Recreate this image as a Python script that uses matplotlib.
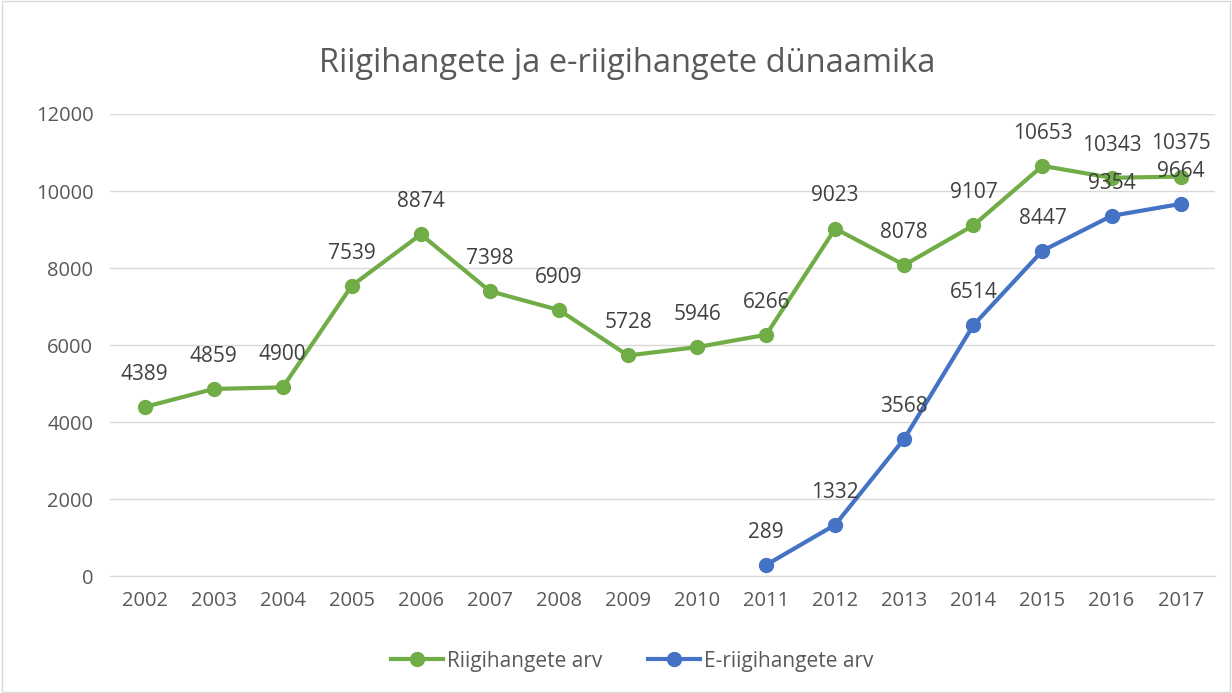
import matplotlib
matplotlib.use("Agg")
import matplotlib.pyplot as plt
from matplotlib.patches import Rectangle

years = [str(y) for y in range(2002, 2018)]
riigihanked = [4389, 4859, 4900, 7539, 8874, 7398, 6909, 5728, 5946, 6266, 9023, 8078, 9107, 10653, 10343, 10375]
e_years = [str(y) for y in range(2011, 2018)]
e_riigihanked = [289, 1332, 3568, 6514, 8447, 9354, 9664]
yticks = [0, 2000, 4000, 6000, 8000, 10000, 12000]

title = "Riigihangete ja e-riigihangete dünaamika"
labels = ["Riigihangete arv", "E-riigihangete arv"]
green = "#70AD47"
blue = "#4472C4"
txt = "#404040"
tick_col = "#595959"

plt.rcParams['font.family'] = ['Open Sans', 'DejaVu Sans']

fig = plt.figure(figsize=(12.32, 6.93), dpi=100)
ax = fig.add_axes([0.0893, 0.1688, 0.897, 0.6667])

x_all = list(range(len(years)))
x_e = [years.index(y) for y in e_years]

l1, = ax.plot(x_all, riigihanked, color=green, lw=3, marker='o', ms=10, label=labels[0], zorder=3)
l2, = ax.plot(x_e, e_riigihanked, color=blue, lw=3, marker='o', ms=10, label=labels[1], zorder=3)

for xi, v in zip(x_all, riigihanked):
    ax.annotate(str(v), (xi, v), xytext=(0, 23.5), textcoords='offset points', ha='center', va='center', fontsize=15, color=txt)
for xi, v in zip(x_e, e_riigihanked):
    ax.annotate(str(v), (xi, v), xytext=(0, 23.5), textcoords='offset points', ha='center', va='center', fontsize=15, color=txt)

ax.set_xlim(-0.5, len(years) - 0.5)
ax.set_ylim(0, 12000)
ax.set_yticks(yticks)
ax.set_yticklabels([str(t) for t in yticks])
ax.set_xticks(x_all)
ax.set_xticklabels(years)
ax.tick_params(axis='both', length=0, labelsize=14.5, labelcolor=tick_col)
ax.tick_params(axis='x', pad=11)
ax.tick_params(axis='y', pad=12)
ax.grid(axis='y', color='#D9D9D9', lw=1)
ax.set_axisbelow(True)
for s in ['top', 'right', 'left']:
    ax.spines[s].set_visible(False)
ax.spines['bottom'].set_color('#D9D9D9')

fig.text(0.509, 0.908, title, ha='center', va='center', fontsize=23.5, color=tick_col)

fig.legend(handles=[l1, l2], loc='center', bbox_to_anchor=(0.513, 0.046), ncol=2, frameon=False,
           fontsize=15, labelcolor=tick_col, handlelength=2.5, handletextpad=0.2, columnspacing=2.2)

fig.add_artist(Rectangle((0.002, 0.002), 0.996, 0.996, transform=fig.transFigure, fill=False, edgecolor='#D9D9D9', lw=1))

fig.savefig("out.png", dpi=100, facecolor='white')
